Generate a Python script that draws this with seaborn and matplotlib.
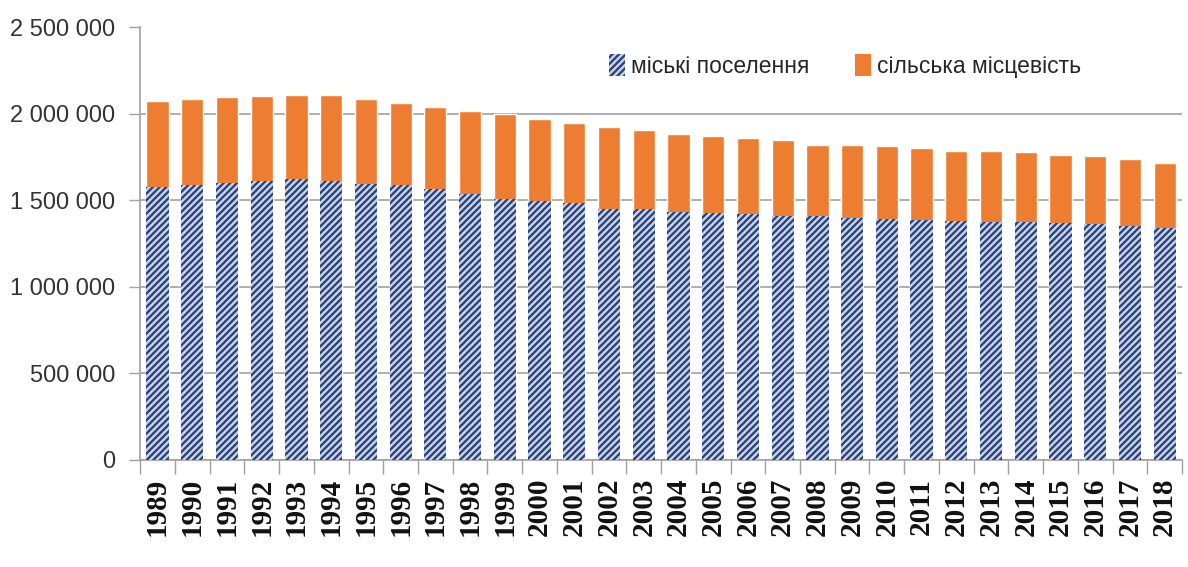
import numpy as np
import pandas as pd
import matplotlib
matplotlib.use("Agg")
import matplotlib.pyplot as plt
import matplotlib.patches as mpatches
import seaborn as sns

years = [str(y) for y in range(1989, 2019)]

# міські поселення (urban)
urban = [1576000, 1586000, 1599000, 1611000, 1621000, 1611000, 1596000, 1590000,
         1563000, 1538000, 1510000, 1494000, 1484000, 1452000, 1448000, 1433000,
         1427000, 1423000, 1410000, 1408000, 1395000, 1393000, 1385000, 1383000,
         1375000, 1372000, 1366000, 1360000, 1352000, 1337000]

# сільська місцевість (rural)
rural = [499000, 498000, 499000, 489000, 488000, 497000, 488000, 471000,
         477000, 479000, 488000, 475000, 460000, 469000, 460000, 450000,
         446000, 437000, 439000, 414000, 425000, 419000, 415000, 404000,
         411000, 406000, 398000, 393000, 388000, 380000]

y_ticks = [0, 500000, 1000000, 1500000, 2000000, 2500000]
y_tick_labels = ["0", "500 000", "1 000 000", "1 500 000", "2 000 000", "2 500 000"]

df = pd.DataFrame({"year": years, "urban": urban, "rural": rural})
df["total"] = df["urban"] + df["rural"]

sns.set_style("white")
plt.rcParams["font.family"] = ["Liberation Sans Narrow", "Liberation Sans", "DejaVu Sans"]
plt.rcParams["hatch.linewidth"] = 1.6
plt.rcParams["hatch.color"] = "#2a3f70"

fig = plt.figure(figsize=(11.88, 5.67), dpi=100)
ax = fig.add_axes([0.118, 0.189, 0.877, 0.763])

orange = "#ed7d31"
blue_face = "#c3d1ee"
blue_edge = "#2a3f70"

sns.barplot(df, x="year", y="total", color=orange, width=0.64, saturation=1,
            ax=ax, zorder=2)
n_orange = len(ax.patches)
sns.barplot(df, x="year", y="urban", color=blue_face, width=0.64, saturation=1,
            ax=ax, zorder=3)
for p in ax.patches[n_orange:]:
    p.set_hatch("/////")
    p.set_edgecolor(blue_edge)
    p.set_linewidth(0)

ax.set_xlim(-0.5, len(years) - 0.5)
ax.set_ylim(0, 2500000)
ax.set_yticks(y_ticks)
ax.set_yticklabels(y_tick_labels, fontsize=17, color="#333333")
ax.set_xticks(range(len(years)))
ax.set_xticklabels(years, rotation=90, fontsize=21, fontweight="bold",
                   family="Liberation Serif", color="#111111")
ax.set_xticks(np.arange(-0.5, len(years), 1), minor=True)
ax.tick_params(axis="x", which="major", bottom=True, length=0, pad=13)
ax.tick_params(axis="x", which="minor", bottom=True, length=10, width=1,
               color="#a0a0a0")
ax.tick_params(axis="y", left=True, length=8, width=1, color="#a0a0a0", pad=10)
ax.set_xlabel("")
ax.set_ylabel("")

ax.yaxis.grid(True, color="#a8a8a8", linewidth=1.3, zorder=0)
ax.set_axisbelow(True)
ax.get_ygridlines()[-1].set_visible(False)

for s in ["top", "right"]:
    ax.spines[s].set_visible(False)
for s in ["left", "bottom"]:
    ax.spines[s].set_color("#a0a0a0")
    ax.spines[s].set_linewidth(1.2)

handles = [
    mpatches.Patch(facecolor=blue_face, edgecolor=blue_edge, hatch="/////",
                   linewidth=0, label="міські поселення"),
    mpatches.Patch(facecolor=orange, linewidth=0, label="сільська місцевість"),
]
ax.legend(handles=handles, loc="upper left", bbox_to_anchor=(0.43, 0.985),
          ncol=2, frameon=False, fontsize=16.5, handlelength=0.7,
          handleheight=1.1, handletextpad=0.25, columnspacing=2.0)

fig.savefig("out.png", dpi=100)
